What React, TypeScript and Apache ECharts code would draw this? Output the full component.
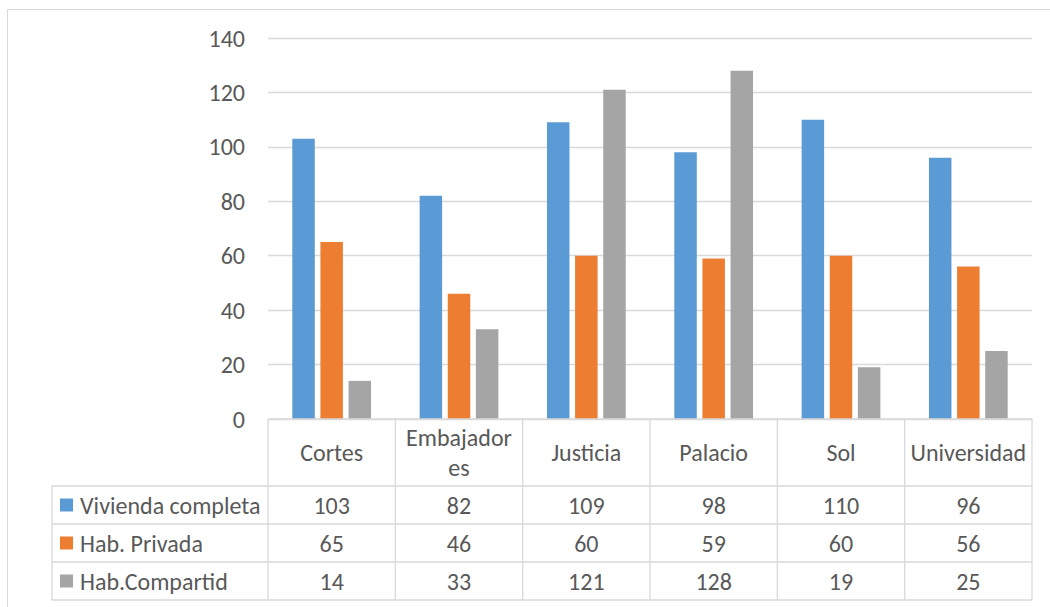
import React, { useEffect, useRef } from "react";
import * as echarts from "echarts";

const categories = ["Cortes", "Embajadores", "Justicia", "Palacio", "Sol", "Universidad"];
const seriesNames = ["Vivienda completa", "Hab. Privada", "Hab.Compartid"];
const viviendaCompleta = [103, 82, 109, 98, 110, 96];
const habPrivada = [65, 46, 60, 59, 60, 56];
const habCompartida = [14, 33, 121, 128, 19, 25];
const yTicks = { min: 0, max: 140, interval: 20 };

const colors = ["#5b9bd5", "#ed7d31", "#a5a5a5"];
const FONT = "Carlito, Calibri, Lato, 'Open Sans', sans-serif";
const FONT_SIZE = 24;
const TEXT = "#595959";
const LINE = "#d9d9d9";

// layout of the plot and of the data table beneath it
const W = 1050;
const H = 607;
const PLOT_L = 268;
const PLOT_R = 1032;
const PLOT_T = 38;
const AXIS_Y = 419;
const HEADER_B = 486;
const ROW_H = 38;
const TABLE_L = 52;

// Wrap a header label that does not fit its cell, leaving some cell padding.
function wrapLabel(text: string, cellWidth: number): string {
  const canvas = document.createElement("canvas");
  const ctx = canvas.getContext("2d");
  if (!ctx) return text;
  ctx.font = `${FONT_SIZE}px ${FONT}`;
  if (ctx.measureText(text).width <= cellWidth - 8) return text;
  const limit = cellWidth - 18;
  let cut = text.length - 1;
  while (cut > 1 && ctx.measureText(text.slice(0, cut)).width > limit) cut--;
  return text.slice(0, cut) + "\n" + text.slice(cut);
}

export default function App() {
  const ref = useRef<HTMLDivElement>(null);

  useEffect(() => {
    document.body.style.margin = "0";
    if (!ref.current) return;
    const chart = echarts.init(ref.current, undefined, { renderer: "svg" });
    const values = [viviendaCompleta, habPrivada, habCompartida];
    const colW = (PLOT_R - PLOT_L) / categories.length;

    const graphics: any[] = [];
    const hline = (x1: number, x2: number, y: number) =>
      graphics.push({
        type: "line",
        silent: true,
        z: 10,
        shape: { x1, y1: y, x2, y2: y },
        style: { stroke: LINE, lineWidth: 1.3 },
      });
    const vline = (x: number, y1: number, y2: number) =>
      graphics.push({
        type: "line",
        silent: true,
        z: 10,
        shape: { x1: x, y1, x2: x, y2 },
        style: { stroke: LINE, lineWidth: 1.3 },
      });

    // outer chart border
    graphics.push({
      type: "rect",
      silent: true,
      shape: { x: 7.5, y: 9.5, width: W + 20, height: H + 20 },
      style: { fill: "none", stroke: LINE, lineWidth: 1 },
    });

    const tableBottom = HEADER_B + ROW_H * seriesNames.length;
    hline(PLOT_L, PLOT_R, AXIS_Y);
    for (let r = 0; r <= seriesNames.length; r++) {
      hline(TABLE_L, PLOT_R, HEADER_B + r * ROW_H);
    }
    vline(TABLE_L, HEADER_B, tableBottom);
    for (let c = 0; c <= categories.length; c++) {
      vline(PLOT_L + c * colW, AXIS_Y, tableBottom);
    }

    seriesNames.forEach((name, r) => {
      const cy = HEADER_B + r * ROW_H + ROW_H / 2;
      graphics.push({
        type: "rect",
        silent: true,
        shape: { x: 60, y: cy - 6.5, width: 13, height: 13 },
        style: { fill: colors[r] },
      });
      graphics.push({
        type: "text",
        silent: true,
        x: 80,
        y: cy,
        style: {
          text: name,
          fill: TEXT,
          font: `${FONT_SIZE}px ${FONT}`,
          verticalAlign: "middle",
          align: "left",
        },
      });
      values[r].forEach((v, c) => {
        graphics.push({
          type: "text",
          silent: true,
          x: PLOT_L + c * colW + colW / 2,
          y: cy,
          style: {
            text: String(v),
            fill: TEXT,
            font: `${FONT_SIZE}px ${FONT}`,
            verticalAlign: "middle",
            align: "center",
          },
        });
      });
    });

    chart.setOption({
      animation: false,
      backgroundColor: "#ffffff",
      grid: {
        left: PLOT_L,
        right: W - PLOT_R,
        top: PLOT_T,
        bottom: H - AXIS_Y,
        containLabel: false,
      },
      xAxis: {
        type: "category",
        data: categories,
        axisLine: { show: false },
        axisTick: { show: false },
        axisLabel: {
          interval: 0,
          margin: (HEADER_B - AXIS_Y) / 2,
          verticalAlign: "middle",
          color: TEXT,
          fontSize: FONT_SIZE,
          fontFamily: FONT,
          lineHeight: 30,
          formatter: (v: string) => wrapLabel(v, colW),
        },
      },
      yAxis: {
        type: "value",
        min: yTicks.min,
        max: yTicks.max,
        interval: yTicks.interval,
        axisLine: { show: false },
        axisTick: { show: false },
        axisLabel: {
          color: TEXT,
          fontSize: FONT_SIZE,
          fontFamily: FONT,
          margin: 23,
        },
        splitLine: { lineStyle: { color: LINE, width: 1.3 } },
      },
      series: seriesNames.map((name, i) => ({
        name,
        type: "bar",
        data: values[i],
        barWidth: 22.5,
        barGap: "25%",
        itemStyle: { color: colors[i] },
      })),
      graphic: graphics,
    });

    return () => chart.dispose();
  }, []);

  return <div ref={ref} style={{ width: W, height: H }} />;
}
